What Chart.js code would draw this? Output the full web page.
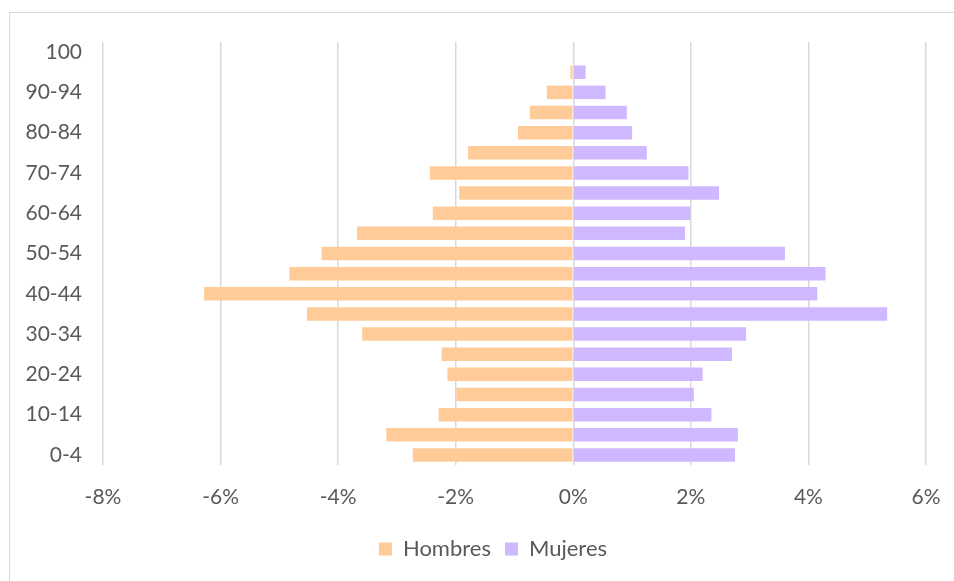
<!DOCTYPE html>
<html>
<head>
<meta charset="utf-8">
<script src="https://cdn.jsdelivr.net/npm/chart.js@4"></script>
<style>
  html, body { margin: 0; padding: 0; background: #fff; }
  #wrap { position: relative; width: 954px; height: 581px; }
  #frame { position: absolute; left: 9px; top: 12px; right: -5px; bottom: -5px;
           border-top: 1px solid #d9d9d9; border-left: 1px solid #d9d9d9; }
  canvas { position: absolute; left: 0; top: 0; }
</style>
</head>
<body>
<div id="wrap">
  <div id="frame"></div>
  <canvas id="pyramid" width="954" height="581"></canvas>
</div>
<script>
// age groups, bottom to top
const ageGroups = ['0-4', '5-9', '10-14', '15-19', '20-24', '25-29', '30-34', '35-39',
  '40-44', '45-49', '50-54', '55-59', '60-64', '65-69', '70-74', '75-79',
  '80-84', '85-89', '90-94', '95-99', '100']

// % of population (men shown negative)
const hombres = [-2.73, -3.18, -2.29, -1.99, -2.14, -2.24, -3.59, -4.53,
  -6.28, -4.83, -4.28, -3.68, -2.39, -1.94, -2.44, -1.79,
  -0.94, -0.74, -0.45, -0.05, 0]
const mujeres = [2.75, 2.80, 2.35, 2.05, 2.20, 2.70, 2.94, 5.34,
  4.15, 4.29, 3.60, 1.90, 1.99, 2.48, 1.96, 1.25,
  1.00, 0.91, 0.55, 0.21, 0]

const xTicks = [-8, -6, -4, -2, 0, 2, 4, 6]

const textColor = '#595959'
const gridColor = '#d9d9d9'
const fontFamily = 'Lato, "Open Sans", sans-serif'

// nudge the legend to the right, like the original
const legendShift = {
  id: 'legendShift',
  afterLayout: (chart) => {
    chart.legend.left += 60
  },
}

const config = {
  type: 'bar',
  data: {
    labels: ageGroups,
    datasets: [
      {
        label: 'Hombres',
        data: hombres,
        backgroundColor: '#FFCC99',
        borderWidth: 0,
        barPercentage: 0.67,
        categoryPercentage: 1,
      },
      {
        label: 'Mujeres',
        data: mujeres,
        backgroundColor: '#CFB8FF',
        borderWidth: 0,
        barPercentage: 0.67,
        categoryPercentage: 1,
      },
    ],
  },
  options: {
    indexAxis: 'y',
    responsive: false,
    animation: false,
    layout: { padding: { top: 42, right: 28, bottom: 11, left: 0 } },
    scales: {
      x: {
        stacked: true,
        min: xTicks[0],
        max: xTicks[xTicks.length - 1],
        afterBuildTicks: (scale) => {
          scale.ticks = xTicks.map((v) => ({ value: v }))
        },
        afterFit: (scale) => {
          scale.height = 59
          scale.paddingLeft = 0
          scale.paddingRight = 0
        },
        grid: { color: gridColor, lineWidth: 1.5, drawTicks: false },
        border: { display: false },
        ticks: {
          color: textColor,
          padding: 20,
          font: { family: fontFamily, size: 21 },
          callback: (v) => v + '%',
        },
      },
      y: {
        stacked: true,
        reverse: true,
        afterFit: (scale) => {
          scale.width = 103
        },
        grid: { display: false, drawTicks: false },
        border: { display: false },
        ticks: {
          autoSkip: false,
          color: textColor,
          padding: 21,
          font: { family: fontFamily, size: 21 },
          callback: (v, i) => (i % 2 === 0 ? ageGroups[i] : ''),
        },
      },
    },
    plugins: {
      tooltip: { enabled: false },
      legend: {
        position: 'bottom',
        labels: {
          color: textColor,
          boxWidth: 13,
          boxHeight: 13,
          padding: 14,
          font: { family: fontFamily, size: 22 },
        },
      },
    },
  },
  plugins: [legendShift],
}

new Chart(document.querySelector('#pyramid'), config)
</script>
</body>
</html>
